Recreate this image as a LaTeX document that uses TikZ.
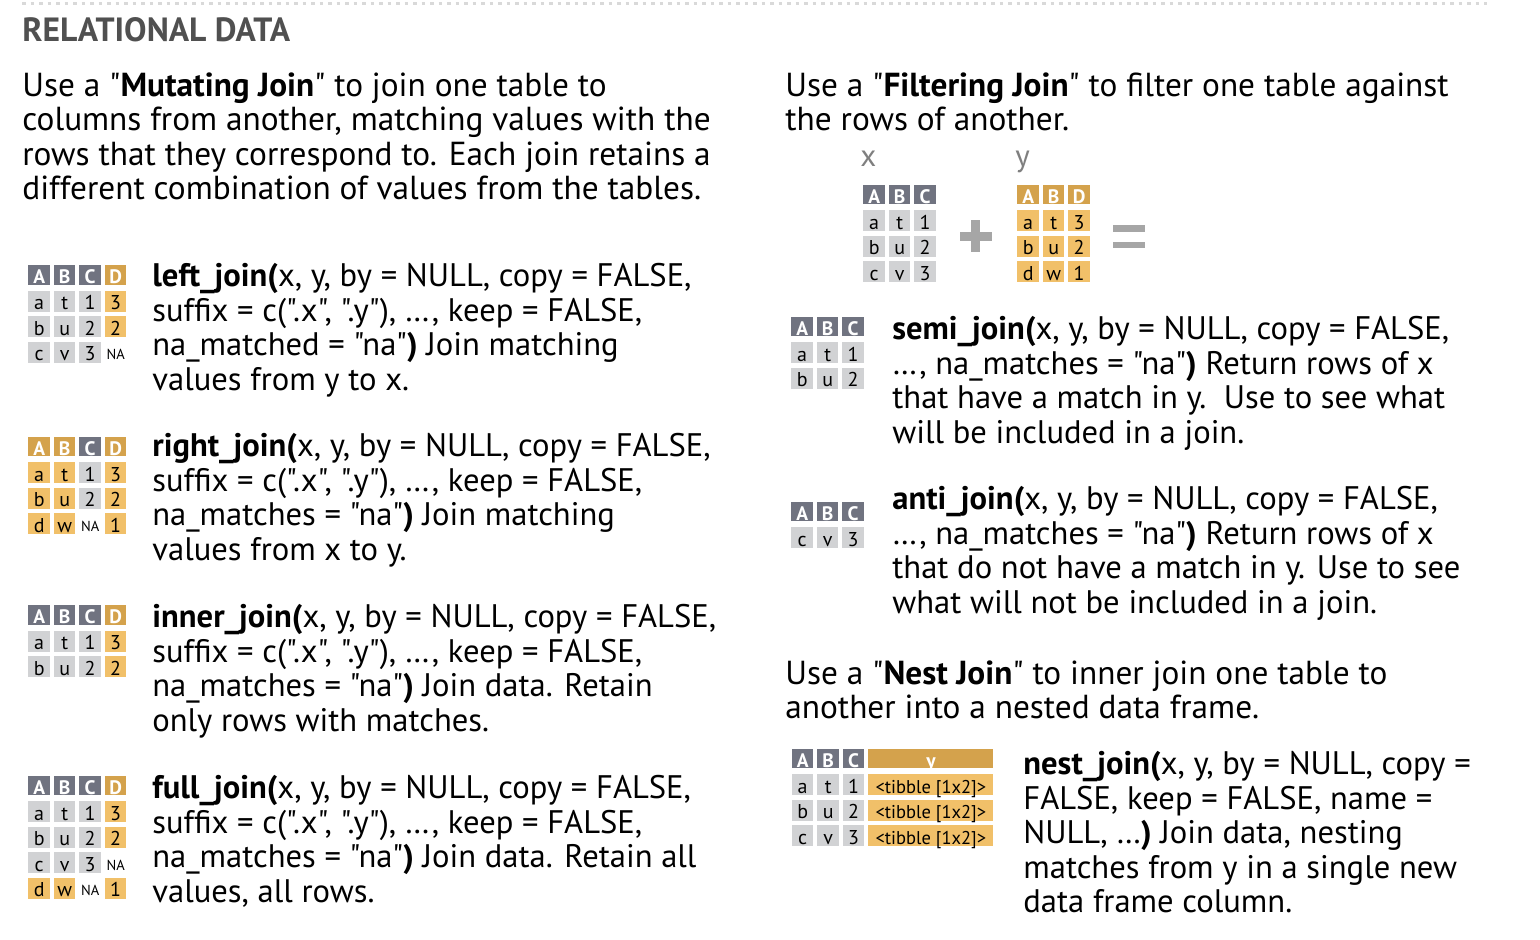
\documentclass[tikz,border=0pt]{standalone}
\usepackage{fontspec}
\setmainfont{PT Sans}[Ligatures=TeXOff]
\definecolor{hdgray}{HTML}{707380}
\definecolor{cellgray}{HTML}{D1D2D4}
\definecolor{hdorange}{HTML}{D4A24C}
\definecolor{cellorange}{HTML}{F1C069}
\definecolor{titlegray}{HTML}{505050}
\definecolor{signgray}{HTML}{A6A6A6}
\definecolor{dotgray}{HTML}{D9D9D9}
\definecolor{labelgray}{HTML}{7F7F7F}
\begin{document}
\begin{tikzpicture}[x=0.5pt, y=-0.5pt,
    cell/.style={anchor=north west, inner sep=0pt, minimum width=10.75pt},
    hgray/.style={cell, minimum height=9.75pt, fill=hdgray, text=white,
      font=\bfseries\fontsize{9.75}{9.75}\selectfont, text height=9.25pt, text depth=0.5pt},
    horange/.style={hgray, fill=hdorange},
    cgray/.style={cell, minimum height=10.5pt, fill=cellgray,
      font=\fontsize{10}{10}\selectfont, text height=9.5pt, text depth=1pt},
    corange/.style={cgray, fill=cellorange},
    nacell/.style={cell, minimum height=10.5pt,
      font=\fontsize{7.25}{7.25}\selectfont, text height=9pt, text depth=1.5pt},
    widehd/.style={horange, minimum width=62.5pt},
    widecell/.style={corange, minimum width=62.5pt, font=\fontsize{9.25}{9.25}\selectfont},
    intro/.style={anchor=north west, inner sep=0pt, align=left,
      font=\fontsize{16.65}{17.25}\selectfont},
    fn/.style={intro, font=\fontsize{16.3}{17.25}\selectfont},
    tbllabel/.style={anchor=base west, inner sep=0pt, text=labelgray,
      font=\fontsize{15.5}{15.5}\selectfont},
    sign/.style={fill=signgray},
    dotline/.style={dotgray, line width=1.75pt, dash pattern=on 1.75pt off 2.5pt}]
  \useasboundingbox (0,0) rectangle (1540,940);
  \draw[dotline] (22,3.3) -- (1487,3.3);
  \node[anchor=base west, inner sep=0pt, text=titlegray,
    font=\bfseries\fontsize{16.8}{16.8}\selectfont] (title) at (22,42) {RELATIONAL DATA};

  % intro texts
  \node[intro] (mutintro) at (22,72) {Use a "\textbf{Mutating Join}" to join one table to\\
    columns from another, matching values with the\\
    rows that they correspond to. Each join retains a\\
    different combination of values from the tables.};
  \node[intro] (filtintro) at (785,72) {Use a "\textbf{Filtering Join}" to filter one table against\\
    the rows of another.};
  \node[intro] (nestintro) at (785,660) {Use a "\textbf{Nest Join}" to inner join one table to\\
    another into a nested data frame.};

  % mutating joins
  \node[fn] (lefttext) at (152,263) {\textbf{left\_join(}x, y, by = NULL, copy = FALSE,\\
    suffix = c(".x", ".y"), …, keep = FALSE,\\
    na\_matched = "na"\textbf{)} Join matching\\
    values from y to x.};
  \node[fn] (righttext) at (152,433) {\textbf{right\_join(}x, y, by = NULL, copy = FALSE,\\
    suffix = c(".x", ".y"), …, keep = FALSE,\\
    na\_matches = "na"\textbf{)} Join matching\\
    values from x to y.};
  \node[fn] (innertext) at (152,604) {\textbf{inner\_join(}x, y, by = NULL, copy = FALSE,\\
    suffix = c(".x", ".y"), …, keep = FALSE,\\
    na\_matches = "na"\textbf{)} Join data. Retain\\
    only rows with matches.};
  \node[fn] (fulltext) at (152,775) {\textbf{full\_join(}x, y, by = NULL, copy = FALSE,\\
    suffix = c(".x", ".y"), …, keep = FALSE,\\
    na\_matches = "na"\textbf{)} Join data. Retain all\\
    values, all rows.};

  % filtering and nest joins
  \node[fn] (semitext) at (892,316) {\textbf{semi\_join(}x, y, by = NULL, copy = FALSE,\\
    …, na\_matches = "na"\textbf{)} Return rows of x\\
    that have a match in y.\ \ Use to see what\\
    will be included in a join.};
  \node[fn] (antitext) at (892,486) {\textbf{anti\_join(}x, y, by = NULL, copy = FALSE,\\
    …, na\_matches = "na"\textbf{)} Return rows of x\\
    that do not have a match in y. Use to see\\
    what will not be included in a join.};
  \node[fn] (nesttext) at (1023,751) {\textbf{nest\_join(}x, y, by = NULL, copy =\\
    FALSE, keep = FALSE, name =\\
    NULL, …\textbf{)} Join data, nesting\\
    matches from y in a single new\\
    data frame column.};

  % left_join
  \draw
    (28,265) node[hgray] (lA){A}
    (53.5,265) node[hgray] (lB){B}
    (79,265) node[hgray] (lC){C}
    (104.5,265) node[horange] (lD){D}
    (28,290.5) node[cgray] (lA1){a}
    (53.5,290.5) node[cgray] (lB1){t}
    (79,290.5) node[cgray] (lC1){1}
    (104.5,290.5) node[corange] (lD1){3}
    (28,316) node[cgray] (lA2){b}
    (53.5,316) node[cgray] (lB2){u}
    (79,316) node[cgray] (lC2){2}
    (104.5,316) node[corange] (lD2){2}
    (28,341.5) node[cgray] (lA3){c}
    (53.5,341.5) node[cgray] (lB3){v}
    (79,341.5) node[cgray] (lC3){3}
    (104.5,341.5) node[nacell] (lD3){NA};

  % right_join
  \draw
    (28,436.5) node[horange] (rA){A}
    (53.5,436.5) node[horange] (rB){B}
    (79,436.5) node[hgray] (rC){C}
    (104.5,436.5) node[horange] (rD){D}
    (28,462) node[corange] (rA1){a}
    (53.5,462) node[corange] (rB1){t}
    (79,462) node[cgray] (rC1){1}
    (104.5,462) node[corange] (rD1){3}
    (28,487.5) node[corange] (rA2){b}
    (53.5,487.5) node[corange] (rB2){u}
    (79,487.5) node[cgray] (rC2){2}
    (104.5,487.5) node[corange] (rD2){2}
    (28,513) node[corange] (rA3){d}
    (53.5,513) node[corange] (rB3){w}
    (79,513) node[nacell] (rC3){NA}
    (104.5,513) node[corange] (rD3){1};

  % inner_join
  \draw
    (28,605) node[hgray] (iA){A}
    (53.5,605) node[hgray] (iB){B}
    (79,605) node[hgray] (iC){C}
    (104.5,605) node[horange] (iD){D}
    (28,630.5) node[cgray] (iA1){a}
    (53.5,630.5) node[cgray] (iB1){t}
    (79,630.5) node[cgray] (iC1){1}
    (104.5,630.5) node[corange] (iD1){3}
    (28,656) node[cgray] (iA2){b}
    (53.5,656) node[cgray] (iB2){u}
    (79,656) node[cgray] (iC2){2}
    (104.5,656) node[corange] (iD2){2};

  % full_join
  \draw
    (28,775.5) node[hgray] (fA){A}
    (53.5,775.5) node[hgray] (fB){B}
    (79,775.5) node[hgray] (fC){C}
    (104.5,775.5) node[horange] (fD){D}
    (28,801) node[cgray] (fA1){a}
    (53.5,801) node[cgray] (fB1){t}
    (79,801) node[cgray] (fC1){1}
    (104.5,801) node[corange] (fD1){3}
    (28,826.5) node[cgray] (fA2){b}
    (53.5,826.5) node[cgray] (fB2){u}
    (79,826.5) node[cgray] (fC2){2}
    (104.5,826.5) node[corange] (fD2){2}
    (28,852) node[cgray] (fA3){c}
    (53.5,852) node[cgray] (fB3){v}
    (79,852) node[cgray] (fC3){3}
    (104.5,852) node[nacell] (fD3){NA}
    (28,877.5) node[corange] (fA4){d}
    (53.5,877.5) node[corange] (fB4){w}
    (79,877.5) node[nacell] (fC4){NA}
    (104.5,877.5) node[corange] (fD4){1};

  % x + y =
  \node[tbllabel] (xlabel) at (860,167) {x};
  \node[tbllabel] (ylabel) at (1015,167) {y};
  \draw
    (863,184.5) node[hgray] (xA){A}
    (888.5,184.5) node[hgray] (xB){B}
    (914,184.5) node[hgray] (xC){C}
    (863,210) node[cgray] (xA1){a}
    (888.5,210) node[cgray] (xB1){t}
    (914,210) node[cgray] (xC1){1}
    (863,235.5) node[cgray] (xA2){b}
    (888.5,235.5) node[cgray] (xB2){u}
    (914,235.5) node[cgray] (xC2){2}
    (863,261) node[cgray] (xA3){c}
    (888.5,261) node[cgray] (xB3){v}
    (914,261) node[cgray] (xC3){3};
  \draw
    (1017,184.5) node[horange] (yA){A}
    (1042.5,184.5) node[horange] (yB){B}
    (1068,184.5) node[horange] (yD){D}
    (1017,210) node[corange] (yA1){a}
    (1042.5,210) node[corange] (yB1){t}
    (1068,210) node[corange] (yD1){3}
    (1017,235.5) node[corange] (yA2){b}
    (1042.5,235.5) node[corange] (yB2){u}
    (1068,235.5) node[corange] (yD2){2}
    (1017,261) node[corange] (yA3){d}
    (1042.5,261) node[corange] (yB3){w}
    (1068,261) node[corange] (yD3){1};
  \fill[sign] (959.5,232) rectangle (991.5,241);
  \fill[sign] (971,220.5) rectangle (980,252.5);
  \fill[sign] (1113,225) rectangle (1145,231.7);
  \fill[sign] (1113,241.7) rectangle (1145,248.3);

  % semi_join
  \draw
    (791,316.5) node[hgray] (sA){A}
    (816.5,316.5) node[hgray] (sB){B}
    (842,316.5) node[hgray] (sC){C}
    (791,342) node[cgray] (sA1){a}
    (816.5,342) node[cgray] (sB1){t}
    (842,342) node[cgray] (sC1){1}
    (791,367.5) node[cgray] (sA2){b}
    (816.5,367.5) node[cgray] (sB2){u}
    (842,367.5) node[cgray] (sC2){2};

  % anti_join
  \draw
    (791,501.5) node[hgray] (aA){A}
    (816.5,501.5) node[hgray] (aB){B}
    (842,501.5) node[hgray] (aC){C}
    (791,527) node[cgray] (aA1){c}
    (816.5,527) node[cgray] (aB1){v}
    (842,527) node[cgray] (aC1){3};

  % nest_join
  \draw
    (791.5,748.5) node[hgray] (nA){A}
    (817,748.5) node[hgray] (nB){B}
    (842.5,748.5) node[hgray] (nC){C}
    (868,748.5) node[widehd] (nY){y}
    (791.5,774) node[cgray] (nA1){a}
    (817,774) node[cgray] (nB1){t}
    (842.5,774) node[cgray] (nC1){1}
    (868,774) node[widecell] (nY1){<tibble [1x2]>}
    (791.5,799.5) node[cgray] (nA2){b}
    (817,799.5) node[cgray] (nB2){u}
    (842.5,799.5) node[cgray] (nC2){2}
    (868,799.5) node[widecell] (nY2){<tibble [1x2]>}
    (791.5,825) node[cgray] (nA3){c}
    (817,825) node[cgray] (nB3){v}
    (842.5,825) node[cgray] (nC3){3}
    (868,825) node[widecell] (nY3){<tibble [1x2]>};
\end{tikzpicture}
\end{document}
